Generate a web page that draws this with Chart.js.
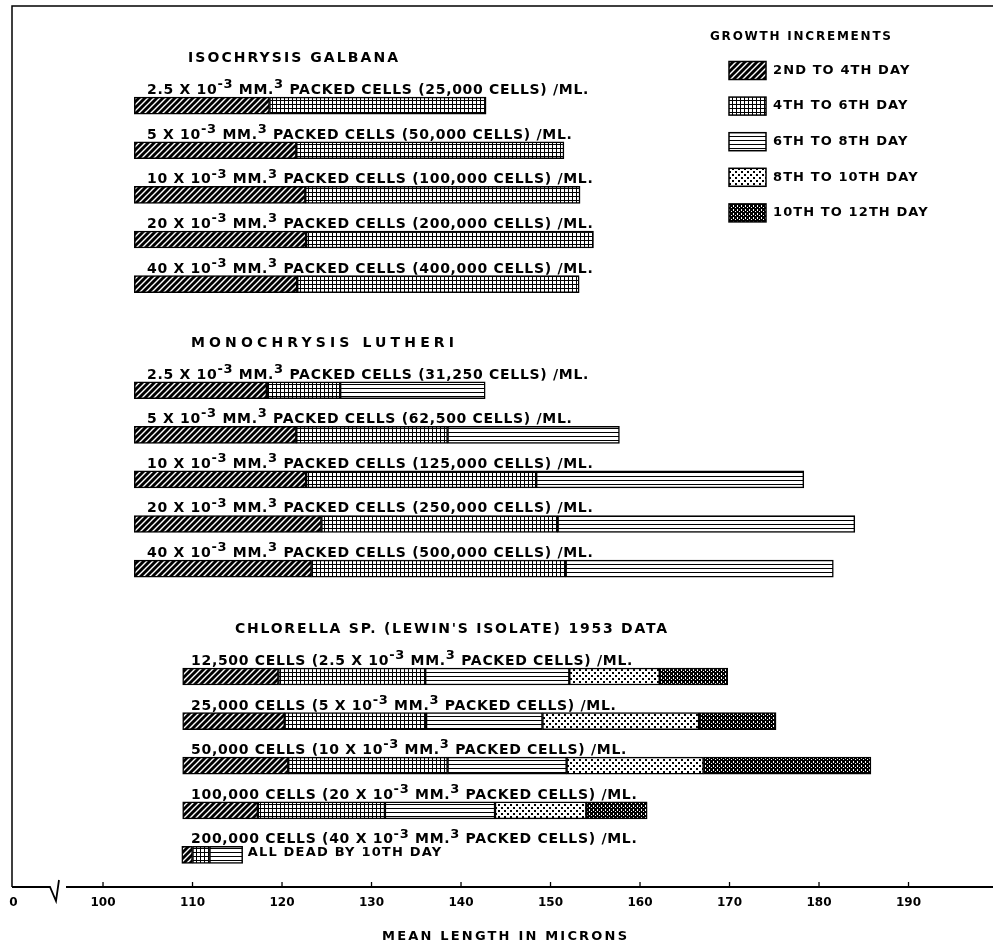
<!DOCTYPE html>
<html>
<head>
<meta charset="utf-8">
<script src="https://cdn.jsdelivr.net/npm/chart.js@4.4.1/dist/chart.umd.min.js"></script>
<style>
  html, body { margin: 0; background: #fff; }
  #wrap { width: 993px; height: 946px; position: relative; }
</style>
</head>
<body>
<div id="wrap"><canvas id="c"></canvas></div>
<script>
// --- données (longueur moyenne en microns) ---
const groupTitles = ['ISOCHRYSIS GALBANA', 'MONOCHRYSIS LUTHERI', "CHLORELLA SP. (LEWIN'S ISOLATE) 1953 DATA"];
const rowGroup = [0, 0, 0, 0, 0, 1, 1, 1, 1, 1, 2, 2, 2, 2, 2];
const rowLabels = [
    '2.5 X 10^-3^ MM.^3^ PACKED CELLS (25,000 CELLS) /ML.',
    '5 X 10^-3^ MM.^3^ PACKED CELLS (50,000 CELLS) /ML.',
    '10 X 10^-3^ MM.^3^ PACKED CELLS (100,000 CELLS) /ML.',
    '20 X 10^-3^ MM.^3^ PACKED CELLS (200,000 CELLS) /ML.',
    '40 X 10^-3^ MM.^3^ PACKED CELLS (400,000 CELLS) /ML.',
    '2.5 X 10^-3^ MM.^3^ PACKED CELLS (31,250 CELLS) /ML.',
    '5 X 10^-3^ MM.^3^ PACKED CELLS (62,500 CELLS) /ML.',
    '10 X 10^-3^ MM.^3^ PACKED CELLS (125,000 CELLS) /ML.',
    '20 X 10^-3^ MM.^3^ PACKED CELLS (250,000 CELLS) /ML.',
    '40 X 10^-3^ MM.^3^ PACKED CELLS (500,000 CELLS) /ML.',
    '12,500 CELLS (2.5 X 10^-3^ MM.^3^ PACKED CELLS) /ML.',
    '25,000 CELLS (5 X 10^-3^ MM.^3^ PACKED CELLS) /ML.',
    '50,000 CELLS (10 X 10^-3^ MM.^3^ PACKED CELLS) /ML.',
    '100,000 CELLS (20 X 10^-3^ MM.^3^ PACKED CELLS) /ML.',
    '200,000 CELLS (40 X 10^-3^ MM.^3^ PACKED CELLS) /ML.',
];
const rowStart  = [103.5, 103.5, 103.5, 103.5, 103.5, 103.5, 103.5, 103.5, 103.5, 103.5, 108.9, 108.9, 108.9, 108.9, 108.8];
const end2to4   = [118.6, 121.6, 122.6, 122.7, 121.7, 118.3, 121.6, 122.7, 124.4, 123.3, 119.6, 120.3, 120.7, 117.3, 110.0];
const end4to6   = [142.8, 151.5, 153.3, 154.8, 153.2, 126.5, 138.5, 148.4, 150.8, 151.7, 136.0, 136.1, 138.5, 131.5, 111.9];
const end6to8   = [null, null, null, null, null, 142.7, 157.7, 178.3, 184.0, 181.6, 152.1, 149.1, 151.8, 143.8, 115.6];
const end8to10  = [null, null, null, null, null, null, null, null, null, null, 162.2, 166.6, 167.1, 154.0, null];
const end10to12 = [null, null, null, null, null, null, null, null, null, null, 169.8, 175.2, 185.8, 160.8, null];
const seriesNames = ['2ND TO 4TH DAY', '4TH TO 6TH DAY', '6TH TO 8TH DAY', '8TH TO 10TH DAY', '10TH TO 12TH DAY'];
const xTicks = [90, 100, 110, 120, 130, 140, 150, 160, 170, 180, 190];
const xTitle = 'MEAN LENGTH IN MICRONS';
const deadNote = 'ALL DEAD BY 10TH DAY';

const seriesEnds = [end2to4, end4to6, end6to8, end8to10, end10to12];

// mise en page verticale : rang dans le groupe + décalage du groupe
const groupOffset = [0, 6.38, 12.8];
const rowIndex = rowGroup.map((g, i) => i - rowGroup.indexOf(g));
const rowPos = rowGroup.map((g, i) => groupOffset[g] + rowIndex[i]);

const FONT = '"DejaVu Sans", sans-serif';
const canvas = document.getElementById('c');
const ctx0 = canvas.getContext('2d');

/**
 * Crée un motif de remplissage noir et blanc.
 */
function makePattern(w, h, draw) {
    const t = document.createElement('canvas');
    t.width = w;
    t.height = h;
    const g = t.getContext('2d');
    draw(g);
    return ctx0.createPattern(t, 'repeat');
}

const patterns = [
    makePattern(6, 6, (g) => {
        g.fillStyle = '#000';
        g.fillRect(0, 0, 6, 6);
        g.strokeStyle = '#fff';
        g.lineWidth = 1.4;
        g.beginPath();
        g.moveTo(-3, 3); g.lineTo(3, -3);
        g.moveTo(0, 6); g.lineTo(6, 0);
        g.moveTo(3, 9); g.lineTo(9, 3);
        g.stroke();
    }),
    makePattern(4, 4, (g) => {
        g.fillStyle = '#fff';
        g.fillRect(0, 0, 4, 4);
        g.fillStyle = '#000';
        g.fillRect(0, 0, 4, 1);
        g.fillRect(0, 0, 1, 4);
    }),
    makePattern(4, 4, (g) => {
        g.fillStyle = '#fff';
        g.fillRect(0, 0, 4, 4);
        g.fillStyle = '#000';
        g.fillRect(0, 0, 4, 1);
    }),
    makePattern(6, 6, (g) => {
        g.fillStyle = '#fff';
        g.fillRect(0, 0, 6, 6);
        g.fillStyle = '#000';
        g.fillRect(0, 0, 2, 2);
        g.fillRect(3, 3, 2, 2);
    }),
    makePattern(4, 4, (g) => {
        g.fillStyle = '#000';
        g.fillRect(0, 0, 4, 4);
        g.fillStyle = '#fff';
        g.fillRect(1, 1, 1, 2);
        g.fillRect(3, 3, 1, 1);
    }),
];

/**
 * Texte avec exposants : les morceaux entre ^ sont en exposant.
 */
function drawRich(ctx, text, x, y, size, spacing) {
    let cx = x;
    text.split('^').forEach((part, i) => {
        const sup = i % 2 === 1;
        ctx.font = 'bold ' + (sup ? size - 1 : size) + 'px ' + FONT;
        ctx.letterSpacing = spacing + 'px';
        ctx.fillText(part, cx, sup ? y - size * 0.42 : y);
        cx += ctx.measureText(part).width;
    });
    ctx.letterSpacing = '0px';
}

/**
 * Texte étiré à une largeur donnée par l'espacement des lettres.
 */
function drawFit(ctx, text, x, y, size, width) {
    ctx.font = 'bold ' + size + 'px ' + FONT;
    ctx.letterSpacing = '0px';
    const w = ctx.measureText(text).width;
    ctx.letterSpacing = ((width - w) / (text.length - 1)) + 'px';
    ctx.fillText(text, x, y);
    ctx.letterSpacing = '0px';
}

const labelX = [147, 147, 191];
const titleX = [188, 191, 235];
const titleW = [210, 263, 432];

const decor = {
    id: 'decor',
    afterDatasetsDraw(chart) {
        const { ctx, scales: { x, y } } = chart;
        ctx.save();
        ctx.fillStyle = '#000';
        ctx.strokeStyle = '#000';

        const ay = chart.chartArea.bottom;

        // cadre haut et gauche
        ctx.lineWidth = 1.5;
        ctx.beginPath();
        ctx.moveTo(12, ay);
        ctx.lineTo(12, 6);
        ctx.lineTo(993, 6);
        ctx.stroke();

        // axe avec coupure
        ctx.lineWidth = 1.8;
        ctx.beginPath();
        ctx.moveTo(12, ay);
        ctx.lineTo(50, ay);
        ctx.lineTo(56, ay + 14);
        ctx.lineTo(59, ay - 7);
        ctx.moveTo(66, ay);
        ctx.lineTo(993, ay);
        ctx.stroke();
        ctx.lineWidth = 1.3;
        xTicks.slice(1).forEach((v) => {
            const px = x.getPixelForValue(v);
            ctx.beginPath();
            ctx.moveTo(px, ay);
            ctx.lineTo(px, ay - 5);
            ctx.stroke();
        });

        // titre de l'axe
        ctx.textBaseline = 'middle';
        drawFit(ctx, xTitle, 382, 937, 13, 245);

        // titres de groupe
        groupTitles.forEach((t, g) => {
            drawFit(ctx, t, titleX[g], y.getPixelForValue(groupOffset[g]) - 47, 14, titleW[g]);
        });

        // étiquettes au-dessus des barres
        ctx.textBaseline = 'alphabetic';
        rowLabels.forEach((t, i) => {
            const cy = y.getPixelForValue(rowPos[i]);
            drawRich(ctx, t, labelX[rowGroup[i]], cy - 11.5, 14, 0.7);
        });

        // note de la dernière ligne
        const last = rowLabels.length - 1;
        ctx.textBaseline = 'middle';
        ctx.font = 'bold 13px ' + FONT;
        ctx.letterSpacing = '1.2px';
        ctx.fillText(deadNote, x.getPixelForValue(end6to8[last]) + 5, y.getPixelForValue(rowPos[last]) - 2);

        // légende
        drawFit(ctx, 'GROWTH INCREMENTS', 710, 37, 12, 181);
        seriesNames.forEach((name, k) => {
            const cy = 70.5 + k * 35.6;
            ctx.fillStyle = patterns[k];
            ctx.fillRect(729, cy - 9, 37, 18);
            ctx.lineWidth = 1.5;
            ctx.strokeRect(729, cy - 9, 37, 18);
            ctx.fillStyle = '#000';
            ctx.font = 'bold 13px ' + FONT;
            ctx.letterSpacing = '1.1px';
            ctx.fillText(name, 773, cy);
        });
        ctx.restore();
    },
};

const datasets = seriesNames.map((name, k) => ({
    label: name,
    data: rowLabels.map((_, i) => {
        const e = seriesEnds[k][i];
        if (e == null) return null;
        const s = k === 0 ? rowStart[i] : seriesEnds[k - 1][i];
        return { x: [s, e], y: rowPos[i] };
    }).filter(Boolean),
    backgroundColor: patterns[k],
    borderColor: '#000',
    borderWidth: 1.5,
    borderSkipped: false,
    barThickness: 17,
    grouped: false,
}));

new Chart(canvas, {
    type: 'bar',
    data: { datasets },
    plugins: [decor],
    options: {
        indexAxis: 'y',
        responsive: true,
        maintainAspectRatio: false,
        animation: false,
        layout: { padding: { left: 12, right: 0, top: 0, bottom: 0 } },
        plugins: { legend: { display: false }, tooltip: { enabled: false } },
        scales: {
            y: {
                type: 'linear',
                reverse: true,
                offset: false,
                min: -2.37,
                max: 17.52,
                display: false,
            },
            x: {
                type: 'linear',
                min: 89.83,
                max: 199.44,
                afterBuildTicks: (scale) => { scale.ticks = xTicks.map((v) => ({ value: v })); },
                afterFit: (scale) => { scale.height = 59; },
                grid: { display: false, drawTicks: false },
                border: { display: false },
                ticks: {
                    autoSkip: false,
                    maxRotation: 0,
                    padding: 9,
                    color: '#000',
                    font: { family: FONT, size: 12, weight: 'bold' },
                    callback: (v) => (v === 90 ? '0' : String(v)),
                },
                title: { display: false },
            },
        },
    },
});
</script>
</body>
</html>
